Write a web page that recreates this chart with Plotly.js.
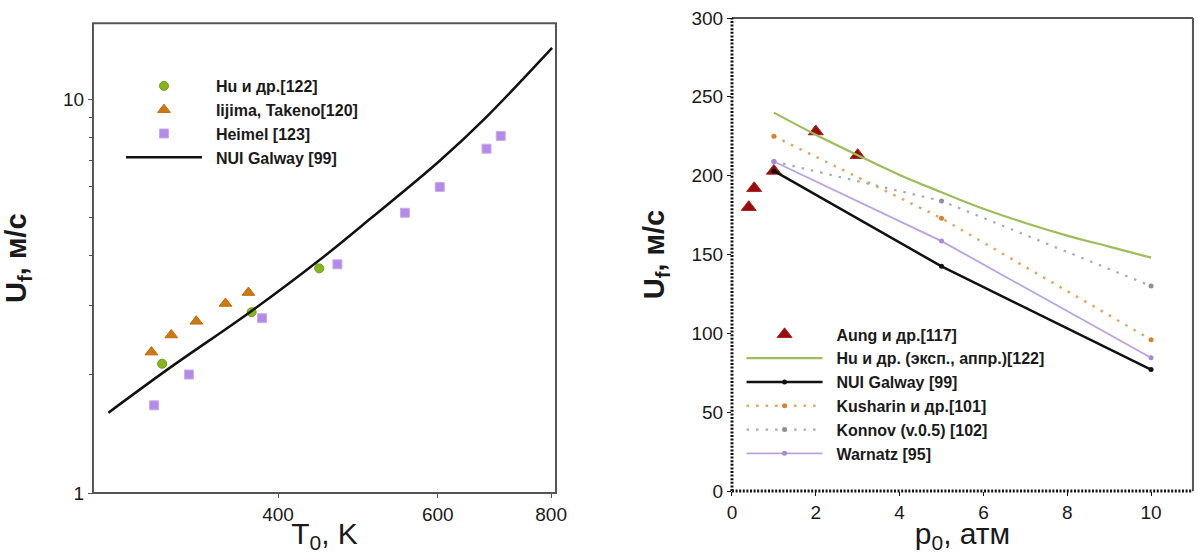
<!DOCTYPE html>
<html>
<head>
<meta charset="utf-8">
<script src="https://cdn.plot.ly/plotly-3.0.1.min.js"></script>
<style>html,body{margin:0;padding:0;background:#fff;}#chart{width:1198px;height:554px;}</style>
</head>
<body>
<div id="chart"></div>
<script>
// ---- Left panel: U_f vs T0 (log-log) ----
const T_hu = [298, 374, 444];
const U_hu = [2.13, 2.88, 3.72];
const T_iijima = [290, 305, 325, 350, 371];
const U_iijima = [2.28, 2.52, 2.73, 3.03, 3.23];
const T_heimel = [292, 319, 384, 465, 552, 603, 679, 704];
const U_heimel = [1.67, 2.00, 2.78, 3.81, 5.15, 5.99, 7.49, 8.07];
const T_galway = [260, 303, 374, 444, 507, 603, 680, 802];
const U_galway_T = [1.60, 2.07, 2.90, 3.90, 5.00, 6.98, 9.05, 13.5];
const leftXTicks = [400, 600, 800];
const leftYTicks = [1, 10];
const leftYMinor = [2, 3, 4, 5, 6, 7, 8, 9];

// ---- Right panel: U_f vs p0 ----
const p_aung = [0.4, 0.53, 1, 2, 3];
const U_aung = [180, 192, 203, 228, 213];
const p_hu = [1, 2, 3, 4, 5, 6, 7, 8, 9, 10];
const U_hu_fit = [240, 226, 213, 200.5, 189.5, 179, 170, 162, 155, 148];
const p_model = [1, 5, 10];
const U_galway_p = [203, 142.5, 77];
const U_kusharin = [225, 173, 96];
const U_konnov = [209, 184, 130];
const U_warnatz = [209, 158.5, 84.5];
const rightXTicks = [0, 2, 4, 6, 8, 10];
const rightYTicks = [0, 50, 100, 150, 200, 250, 300];

const FONT = 'Liberation Sans, Arial, sans-serif';
const TXT = '#1a1a1a';
const SP = '\u00a0\u00a0';

const traces = [
  {x: T_hu, y: U_hu, name: SP + 'Hu и др.[122]', mode: 'markers', xaxis: 'x', yaxis: 'y', legend: 'legend',
   marker: {symbol: 'circle', size: 9, color: '#86b51f', line: {color: '#6e9a14', width: 1}}},
  {x: T_iijima, y: U_iijima, name: SP + 'Iijima, Takeno[120]', mode: 'markers', xaxis: 'x', yaxis: 'y', legend: 'legend',
   marker: {symbol: 'triangle-up', size: 11, color: '#cf7a10', line: {color: '#b86a08', width: 1}}},
  {x: T_heimel, y: U_heimel, name: SP + 'Heimel [123]', mode: 'markers', xaxis: 'x', yaxis: 'y', legend: 'legend',
   marker: {symbol: 'square', size: 9, color: '#b38ae6', line: {color: '#c9aaf0', width: 1}}},
  {x: T_galway, y: U_galway_T, name: SP + 'NUI Galway [99]', mode: 'lines', xaxis: 'x', yaxis: 'y', legend: 'legend',
   line: {color: '#111', width: 2.5, shape: 'spline', smoothing: 1}},

  {x: p_aung, y: U_aung, name: SP + 'Aung и др.[117]', mode: 'markers', xaxis: 'x2', yaxis: 'y2', legend: 'legend2',
   marker: {symbol: 'triangle-up', size: 13, color: '#960d0d', line: {color: '#b02020', width: 1}}},
  {x: p_hu, y: U_hu_fit, name: SP + 'Hu и др. (эксп., аппр.)[122]', mode: 'lines', xaxis: 'x2', yaxis: 'y2', legend: 'legend2',
   line: {color: '#9dbd5a', width: 2.2, shape: 'spline'}},
  {x: p_model, y: U_galway_p, name: SP + 'NUI Galway [99]', mode: 'lines+markers', xaxis: 'x2', yaxis: 'y2', legend: 'legend2',
   line: {color: '#111', width: 2.5}, marker: {size: 5, color: '#111'}},
  {x: p_model, y: U_kusharin, name: SP + 'Kusharin и др.[101]', mode: 'lines+markers', xaxis: 'x2', yaxis: 'y2', legend: 'legend2',
   line: {color: '#e2a55c', width: 2.5, dash: '2.5px,7px'}, marker: {size: 5, color: '#d9822b'}},
  {x: p_model, y: U_konnov, name: SP + 'Konnov (v.0.5) [102]', mode: 'lines+markers', xaxis: 'x2', yaxis: 'y2', legend: 'legend2',
   line: {color: '#a9a9b8', width: 2.2, dash: '2.5px,7px'}, marker: {size: 5, color: '#8e8e9e'}},
  {x: p_model, y: U_warnatz, name: SP + 'Warnatz [95]', mode: 'lines+markers', xaxis: 'x2', yaxis: 'y2', legend: 'legend2',
   line: {color: '#b8a3e3', width: 1.8}, marker: {size: 5, color: '#a58ad8'}}
];

const frameShapes = [
  {type: 'rect', xref: 'x domain', yref: 'y domain', x0: 0, x1: 1, y0: 0, y1: 1, line: {color: '#555', width: 2}},
  {type: 'line', xref: 'x2 domain', yref: 'y2 domain', x0: 0, x1: 1, y0: 1, y1: 1, line: {color: '#555', width: 2}},
  {type: 'line', xref: 'x2 domain', yref: 'y2 domain', x0: 1, x1: 1, y0: 0, y1: 1, line: {color: '#555', width: 2}},
  {type: 'line', xref: 'x2 domain', yref: 'y2 domain', x0: 0, x1: 0, y0: 0, y1: 1, line: {color: '#111', width: 3, dash: '2px,1.6px'}},
  {type: 'line', xref: 'x2 domain', yref: 'y2 domain', x0: 0, x1: 1, y0: 0, y1: 0, line: {color: '#111', width: 3, dash: '2px,1.6px'}}
];

const tickFont = {family: FONT, size: 19, color: TXT};
const legendFont = {family: FONT, size: 16, color: TXT, weight: 'bold'};

const layout = {
  width: 1198, height: 554,
  margin: {l: 0, r: 0, t: 0, b: 0},
  paper_bgcolor: '#fff', plot_bgcolor: '#fff',
  showlegend: true,
  xaxis: {
    type: 'log', domain: [0.0776, 0.4641], range: [Math.log10(250), Math.log10(810)],
    tickmode: 'array', tickvals: leftXTicks, ticktext: leftXTicks.map(String),
    ticks: 'outside', ticklen: 4, tickcolor: '#555', showgrid: false, zeroline: false, showline: false,
    tickfont: tickFont, anchor: 'y',
    title: {text: 'T<sub>0</sub>, K', font: {family: FONT, size: 30, color: TXT}, standoff: 3}
  },
  yaxis: {
    type: 'log', domain: [0.110, 0.958], range: [0, 1.193],
    tickmode: 'array', tickvals: leftYTicks, ticktext: leftYTicks.map(String),
    ticks: 'outside', ticklen: 4, tickcolor: '#555', showgrid: false, zeroline: false, showline: false,
    minor: {tickmode: 'array', tickvals: leftYMinor, ticks: 'outside', ticklen: 3, tickcolor: '#555', showgrid: false},
    tickfont: tickFont, anchor: 'x',
    title: {text: '<b>U<sub>f</sub>, м/с</b>', font: {family: FONT, size: 29, color: TXT}, standoff: 34}
  },
  xaxis2: {
    domain: [0.611, 0.9958], range: [0, 11],
    tickmode: 'array', tickvals: rightXTicks, ticktext: rightXTicks.map(String),
    ticks: 'outside', ticklen: 4, tickcolor: '#111', showgrid: false, zeroline: false, showline: false,
    tickfont: tickFont, anchor: 'y2',
    title: {text: 'p<sub>0</sub>, атм', font: {family: FONT, size: 30, color: TXT}, standoff: 12}
  },
  yaxis2: {
    domain: [0.1137, 0.9675], range: [0, 300],
    tickmode: 'array', tickvals: rightYTicks, ticktext: rightYTicks.map(String),
    ticks: 'outside', ticklen: 4, tickcolor: '#111', showgrid: false, zeroline: false, showline: false,
    tickfont: tickFont, anchor: 'x2',
    title: {text: '<b>U<sub>f</sub>, м/с</b>', font: {family: FONT, size: 29, color: TXT}, standoff: 18}
  },
  legend: {
    x: 0.101, y: 0.8755, xanchor: 'left', yanchor: 'top',
    bgcolor: 'rgba(0,0,0,0)', borderwidth: 0, font: legendFont,
    itemwidth: 76, tracegroupgap: 0
  },
  legend2: {
    x: 0.619, y: 0.427, xanchor: 'left', yanchor: 'top',
    bgcolor: 'rgba(0,0,0,0)', borderwidth: 0, font: legendFont,
    itemwidth: 76, tracegroupgap: 0
  },
  shapes: frameShapes
};

Plotly.newPlot('chart', traces, layout, {displayModeBar: false, staticPlot: true});
</script>
</body>
</html>
